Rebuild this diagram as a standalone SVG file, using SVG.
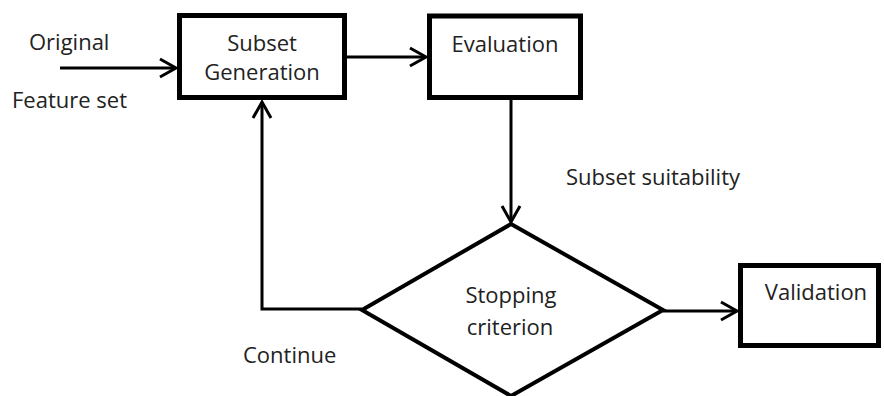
<svg xmlns="http://www.w3.org/2000/svg" width="884" height="396" viewBox="0 0 884 396">
<style>
.box{fill:#fff;stroke:#000;stroke-width:5}
.conn{fill:none;stroke:#000;stroke-width:3}
.t{font-family:"Open Sans","Liberation Sans",sans-serif;font-size:22px;fill:#222}
.m{text-anchor:middle}
</style>
<defs>
<marker id="arr" markerUnits="userSpaceOnUse" markerWidth="24" markerHeight="24" viewBox="-20 -12 24 24" refX="0" refY="0" orient="auto">
<path d="M-16,-9 L0,0 L-16,9" fill="none" stroke="#000" stroke-width="3"/>
</marker>
</defs>
<rect width="884" height="396" fill="#fff"/>
<g id="connectors">
<line class="conn" x1="60" y1="68" x2="176" y2="68" marker-end="url(#arr)"/>
<line class="conn" x1="347" y1="57" x2="426" y2="57" marker-end="url(#arr)"/>
<line class="conn" x1="511" y1="100" x2="511" y2="222" marker-end="url(#arr)"/>
<polyline class="conn" points="362,309 262,309 262,102" marker-end="url(#arr)"/>
<line class="conn" x1="663" y1="311" x2="737" y2="311" marker-end="url(#arr)"/>
</g>
<g id="label-input">
<text class="t" x="29" y="50">Original</text>
<text class="t" x="12" y="108">Feature set</text>
</g>
<g id="subset-generation">
<rect class="box" x="179.5" y="15.5" width="165" height="82"/>
<text class="t m" x="262" y="51">Subset</text>
<text class="t m" x="262" y="80">Generation</text>
</g>
<g id="evaluation">
<rect class="box" x="429.5" y="16" width="151" height="81.5"/>
<text class="t m" x="505" y="52">Evaluation</text>
</g>
<g id="label-suitability">
<text class="t" x="566" y="185">Subset suitability</text>
</g>
<g id="stopping-criterion">
<polygon points="511,224 663,310 511,396 362,310" fill="#fff" stroke="#000" stroke-width="4" stroke-linejoin="miter"/>
<text class="t m" x="511" y="303">Stopping</text>
<text class="t m" x="510" y="335">criterion</text>
</g>
<g id="validation">
<rect class="box" x="740.5" y="265.5" width="138" height="80"/>
<text class="t m" x="816" y="300">Validation</text>
</g>
<g id="label-continue">
<text class="t" x="243" y="363">Continue</text>
</g>
</svg>
